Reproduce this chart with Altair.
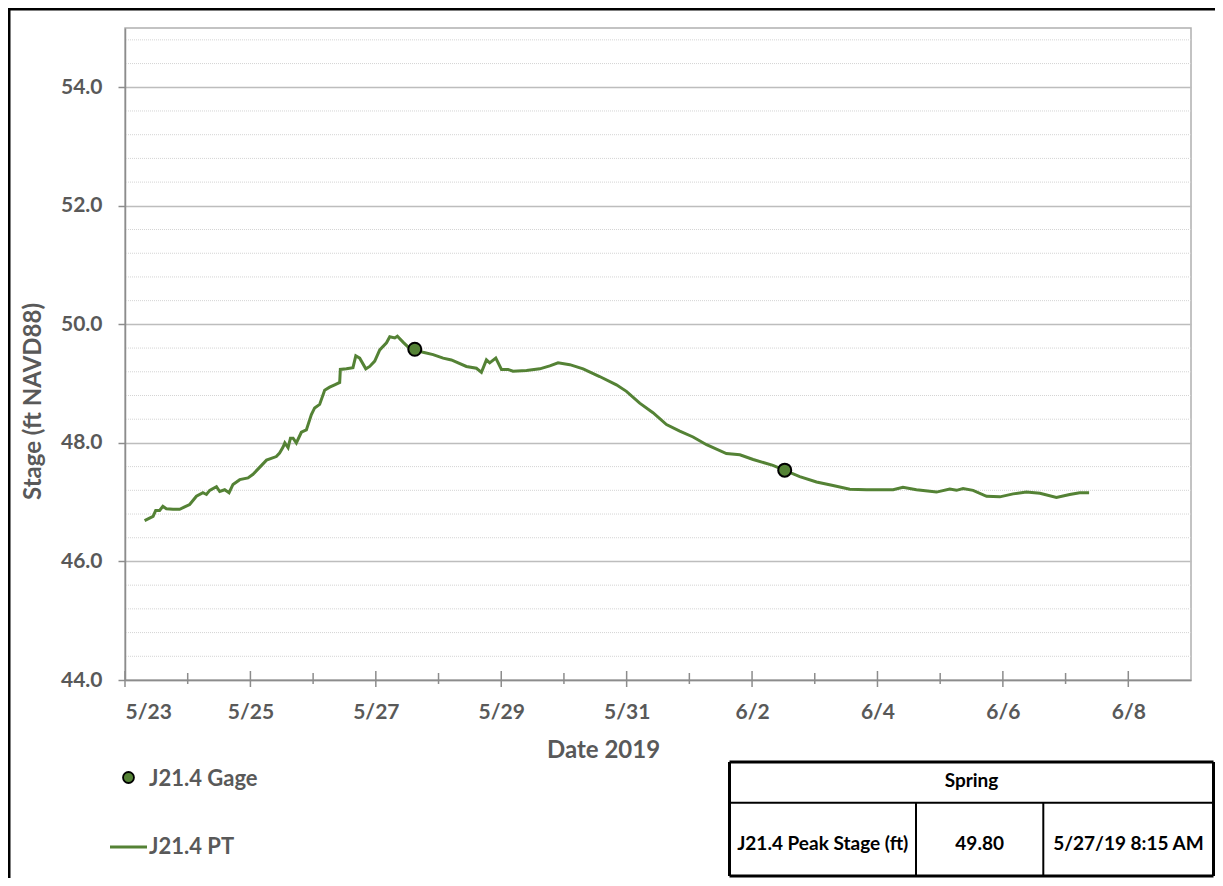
import altair as alt
import pandas as pd

# ---------------- data ----------------
pt_time = [
    "2019-05-23T07:30", "2019-05-23T10:45", "2019-05-23T11:45", "2019-05-23T13:15", "2019-05-23T14:30",
    "2019-05-23T15:50", "2019-05-23T18:20", "2019-05-23T20:55", "2019-05-23T22:50", "2019-05-24T00:45",
    "2019-05-24T03:20", "2019-05-24T05:50", "2019-05-24T07:10", "2019-05-24T08:25", "2019-05-24T11:00",
    "2019-05-24T12:15", "2019-05-24T14:10", "2019-05-24T15:50", "2019-05-24T17:20", "2019-05-24T19:55",
    "2019-05-24T23:05", "2019-05-25T01:00", "2019-05-25T06:10", "2019-05-25T09:55", "2019-05-25T11:10",
    "2019-05-25T12:30", "2019-05-25T13:10", "2019-05-25T14:25", "2019-05-25T15:20", "2019-05-25T16:20",
    "2019-05-25T17:35", "2019-05-25T19:30", "2019-05-25T21:25", "2019-05-25T23:20", "2019-05-26T00:35",
    "2019-05-26T02:30", "2019-05-26T04:25", "2019-05-26T06:20", "2019-05-26T08:15", "2019-05-26T10:10",
    "2019-05-26T10:25", "2019-05-26T12:45", "2019-05-26T15:15", "2019-05-26T16:20", "2019-05-26T17:50",
    "2019-05-26T20:10", "2019-05-26T21:40", "2019-05-26T23:35", "2019-05-27T01:30", "2019-05-27T04:05",
    "2019-05-27T05:20", "2019-05-27T07:15", "2019-05-27T08:15", "2019-05-27T10:25", "2019-05-27T13:00",
    "2019-05-27T18:05", "2019-05-27T21:55", "2019-05-28T01:45", "2019-05-28T04:55", "2019-05-28T10:40",
    "2019-05-28T14:30", "2019-05-28T16:25", "2019-05-28T18:20", "2019-05-28T19:35", "2019-05-28T21:55",
    "2019-05-29T00:05", "2019-05-29T02:35", "2019-05-29T04:30", "2019-05-29T09:40", "2019-05-29T14:45",
    "2019-05-29T18:35", "2019-05-29T21:45", "2019-05-30T02:15", "2019-05-30T07:20", "2019-05-30T13:40",
    "2019-05-30T20:05", "2019-05-30T23:55", "2019-05-31T05:00", "2019-05-31T10:05", "2019-05-31T15:15",
    "2019-05-31T20:20", "2019-06-01T01:25", "2019-06-01T06:35", "2019-06-01T14:10", "2019-06-01T19:20",
    "2019-06-02T00:25", "2019-06-02T08:00", "2019-06-02T18:15", "2019-06-03T00:40", "2019-06-03T07:00",
    "2019-06-03T13:25", "2019-06-03T19:50", "2019-06-04T02:10", "2019-06-04T06:00", "2019-06-04T09:45",
    "2019-06-04T14:55", "2019-06-04T22:35", "2019-06-05T03:40", "2019-06-05T06:15", "2019-06-05T08:45",
    "2019-06-05T12:35", "2019-06-05T17:45", "2019-06-05T22:50", "2019-06-06T03:55", "2019-06-06T09:00",
    "2019-06-06T14:10", "2019-06-06T20:30", "2019-06-07T01:35", "2019-06-07T05:25", "2019-06-07T09:00",
]
pt_stage = [
    46.69, 46.76, 46.86, 46.86, 46.93, 46.89, 46.88, 46.88, 46.92, 46.96,
    47.10, 47.16, 47.13, 47.20, 47.26, 47.18, 47.21, 47.16, 47.30, 47.38,
    47.41, 47.47, 47.71, 47.77, 47.83, 47.93, 48.00, 47.92, 48.08, 48.08,
    48.00, 48.18, 48.22, 48.48, 48.59, 48.65, 48.89, 48.94, 48.98, 49.02,
    49.24, 49.25, 49.27, 49.47, 49.43, 49.25, 49.29, 49.38, 49.57, 49.69,
    49.79, 49.77, 49.80, 49.70, 49.59, 49.53, 49.49, 49.43, 49.40, 49.29,
    49.26, 49.19, 49.40, 49.35, 49.43, 49.24, 49.24, 49.21, 49.22, 49.25,
    49.30, 49.35, 49.32, 49.25, 49.12, 48.98, 48.87, 48.67, 48.51, 48.31,
    48.20, 48.10, 47.97, 47.82, 47.80, 47.72, 47.62, 47.43, 47.34, 47.28,
    47.22, 47.21, 47.21, 47.21, 47.25, 47.21, 47.17, 47.22, 47.20, 47.23,
    47.20, 47.10, 47.09, 47.14, 47.17, 47.15, 47.08, 47.13, 47.16, 47.16,
]
gage_time = ["2019-05-27T14:55", "2019-06-02T12:30"]
gage_stage = [49.58, 47.54]

series_names = ["J21.4 Gage", "J21.4 PT"]
y_major = [44, 46, 48, 50, 52, 54]
y_minor = [44.4, 44.8, 45.2, 45.6, 46.4, 46.8, 47.2, 47.6, 48.4, 48.8, 49.2,
           49.6, 50.4, 50.8, 51.2, 51.6, 52.4, 52.8, 53.2, 53.6, 54.4, 54.8]
label_days = [(5, 23), (5, 25), (5, 27), (5, 29), (5, 31), (6, 2), (6, 4), (6, 6), (6, 8)]
other_days = [(5, 24), (5, 26), (5, 28), (5, 30), (6, 1), (6, 3), (6, 5), (6, 7)]

table_header = "Spring"
table_row = ["J21.4 Peak Stage (ft)", "49.80", "5/27/19 8:15 AM"]

# ---------------- style ----------------
W, H = 1066, 652
GREEN = "#548235"
TXT = "#595959"
AXC = "#8c8c8c"
FONT = "Lato"

pt = pd.DataFrame({"time": pt_time, "stage": pt_stage})
gage = pd.DataFrame({"time": gage_time, "stage": gage_stage})
minor = pd.DataFrame({"v": y_minor})
lab_ticks = pd.DataFrame({"d": ["2019-%02d-%02dT00:00" % md for md in label_days]})
oth_ticks = pd.DataFrame({"d": ["2019-%02d-%02dT00:00" % md for md in other_days]})
one = alt.Data(values=[{"k": 0}])

x_scale = alt.Scale(domain=[alt.DateTime(year=2019, month=5, date=23),
                            alt.DateTime(year=2019, month=6, date=9)])
y_scale = alt.Scale(domain=[44, 55], nice=False, zero=False)

x_axis = alt.Axis(
    values=[alt.DateTime(year=2019, month=m, date=d) for m, d in label_days],
    format="%-m/%-d", ticks=False, tickSize=0, grid=False,
    labelPadding=38, labelBaseline="alphabetic",
    domainColor=AXC, domainWidth=1.5,
    title="Date 2019", titleX=478, titleY=77, titleAlign="center",
    titleBaseline="alphabetic", titleFontSize=24,
)
y_axis = alt.Axis(
    values=y_major, format=".1f", grid=True, gridColor="#bdbdbd", gridWidth=1.5,
    tickSize=7, tickColor=AXC, tickWidth=1.5, labelPadding=16,
    domainColor=AXC, domainWidth=1.5,
    title="Stage (ft NAVD88)", titleX=-85, titleY=373, titleAngle=270,
    titleAlign="center", titleBaseline="alphabetic", titleFontSize=24,
)

minor_grid = alt.Chart(minor).mark_rule(color="#d4d4d4", strokeWidth=1, strokeDash=[1, 1]).encode(
    y=alt.Y("v:Q", scale=y_scale, axis=y_axis)
)

line = alt.Chart(pt).mark_line(color=GREEN, strokeWidth=3).encode(
    x=alt.X("time:T", scale=x_scale, axis=x_axis),
    y=alt.Y("stage:Q", scale=y_scale, axis=y_axis),
)

points = alt.Chart(gage).mark_point(
    shape="circle", filled=True, fill=GREEN, stroke="black", strokeWidth=2, size=170, opacity=1
).encode(
    x=alt.X("time:T", scale=x_scale, axis=x_axis),
    y=alt.Y("stage:Q", scale=y_scale, axis=y_axis),
)

tick_lab = alt.Chart(lab_ticks).mark_rule(color=AXC, strokeWidth=1.5).encode(
    x=alt.X("d:T", scale=x_scale, axis=x_axis), y=alt.value(H - 9), y2=alt.value(H + 7)
)
tick_oth = alt.Chart(oth_ticks).mark_rule(color=AXC, strokeWidth=1.5).encode(
    x=alt.X("d:T", scale=x_scale, axis=x_axis), y=alt.value(H - 7), y2=alt.value(H + 4)
)


def hrule(x1, x2, y, w, color="black"):
    return alt.Chart(one).mark_rule(color=color, strokeWidth=w).encode(
        x=alt.value(x1), x2=alt.value(x2), y=alt.value(y))


def vrule(x, y1, y2, w, color="black"):
    return alt.Chart(one).mark_rule(color=color, strokeWidth=w).encode(
        x=alt.value(x), y=alt.value(y1), y2=alt.value(y2))


def label(txt, x, y, size, color, align="center"):
    return alt.Chart(one).mark_text(
        text=txt, font=FONT, fontWeight="bold", fontSize=size, color=color,
        align=align, baseline="middle",
    ).encode(x=alt.value(x), y=alt.value(y))


# outer chart frame (Excel chart area border)
frame = [vrule(-116, -20, 860, 3), hrule(-117, 1095, -19, 3)]

# manual legend
leg_pt = alt.Chart(one).mark_point(
    shape="circle", filled=True, fill=GREEN, stroke="black", strokeWidth=1.8, size=120, opacity=1
).encode(x=alt.value(3.5), y=alt.value(749.5))
leg_line = hrule(-15, 22, 819, 3, GREEN)
legend = [leg_pt, label(series_names[0], 24, 751, 22, TXT, "left"),
          leg_line, label(series_names[1], 24, 819, 22, TXT, "left")]

# summary table
TL, TR, TT, TM, TB = 604.5, 1088.5, 734, 774.7, 848
C1, C2 = 791, 918.3
table = [
    hrule(TL, TR, TT, 3), hrule(TL, TR, TM, 2), hrule(TL, TR, TB, 3),
    vrule(TL, TT, TB, 3), vrule(TR, TT, TB, 3), vrule(C1, TM, TB, 2), vrule(C2, TM, TB, 2),
    label(table_header, (TL + TR) / 2, 753, 19, "black"),
    label(table_row[0], (TL + C1) / 2, 816, 19, "black"),
    label(table_row[1], (C1 + C2) / 2, 816, 19, "black"),
    label(table_row[2], (C2 + TR) / 2, 816, 19, "black"),
]

chart = alt.layer(
    minor_grid, line, tick_lab, tick_oth, points, *frame, *legend, *table
).resolve_scale(x="shared", y="shared").properties(
    width=W, height=H,
    autosize=alt.AutoSizeParams(type="none"),
    padding={"left": 117, "top": 20, "right": 24, "bottom": 198},
    background="white",
).configure_view(
    stroke="#b0b0b0", strokeWidth=1.5
).configure_axis(
    labelFont=FONT, labelFontWeight="bold", labelFontSize=21, labelColor=TXT,
    titleFont=FONT, titleFontWeight="bold", titleColor=TXT,
)

chart.save("out.html", embed_options={"renderer": "svg", "actions": False})
